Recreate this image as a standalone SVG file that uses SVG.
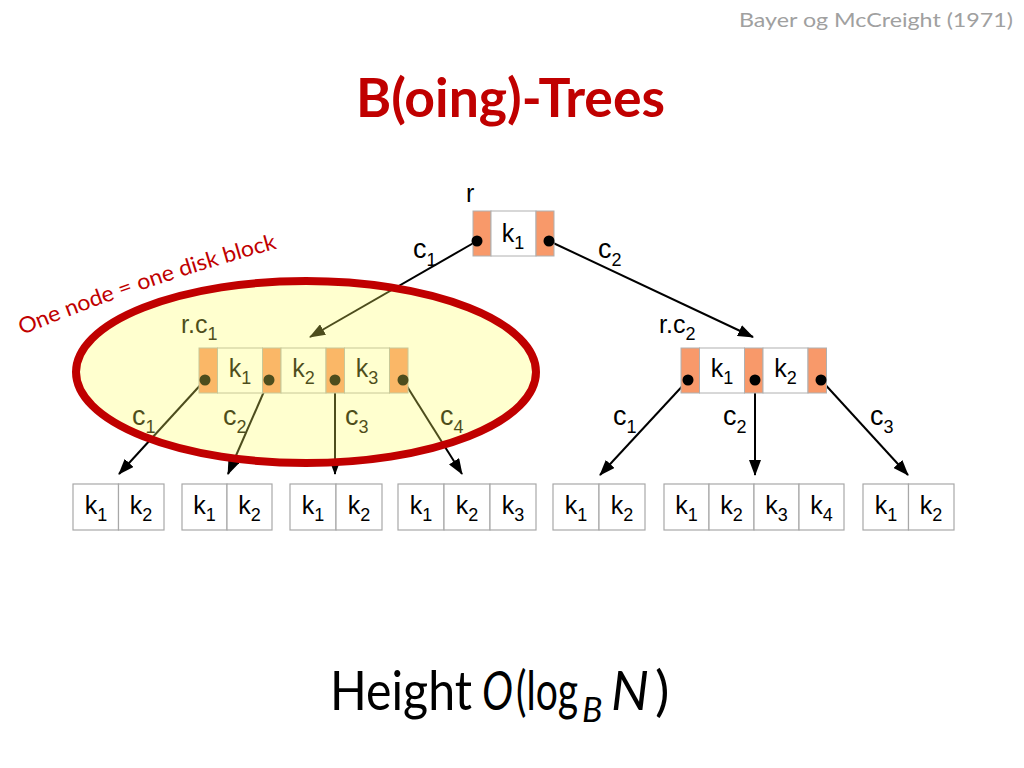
<svg xmlns="http://www.w3.org/2000/svg" width="1024" height="768" viewBox="0 0 1024 768">
<style>
.org{fill:#F8996A;stroke:#B0B0B0;stroke-width:1}
.wht{fill:#FFFFFF;stroke:#B0B0B0;stroke-width:1}
.leaf{fill:#FFFFFF;stroke:#A8A8A8;stroke-width:1.2}
.k{font-family:"Liberation Sans",Arial,sans-serif;font-size:25px;fill:#000;text-anchor:middle}
.ks{font-size:18px}
.cl{font-family:"Liberation Sans",Arial,sans-serif;font-size:27px;fill:#000}
.cs{font-size:18px}
.nm{font-family:"Liberation Sans",Arial,sans-serif;font-size:25px;fill:#000}
.ln{stroke:#000;stroke-width:2;fill:none}
.dot{fill:#000}
.ttl{font-family:Lato,"Open Sans",sans-serif;font-weight:bold;font-size:53px;fill:#C00000}
.cal{font-family:Lato,"Open Sans",sans-serif}
.ht{font-family:Lato,"Open Sans",sans-serif;font-size:54px;fill:#000}
.hs{font-family:Lato,"Open Sans",sans-serif;font-size:34px;font-style:italic;fill:#000}
</style>
<defs>
<marker id="arr" markerUnits="userSpaceOnUse" markerWidth="16" markerHeight="12" viewBox="0 0 16 12" refX="15" refY="6" orient="auto">
<path d="M0,0 L16,6 L0,12 z" fill="#000"/>
</marker>
<path id="arc" d="M22,335 Q150,282 294,244"/>
</defs>

<rect width="1024" height="768" fill="#FFFFFF"/>

<text x="1013" y="27" class="cal" font-size="19" fill="#A0A0A0" text-anchor="end" textLength="274" lengthAdjust="spacingAndGlyphs">Bayer og McCreight (1971)</text>
<text x="356" y="117" class="ttl" textLength="309" lengthAdjust="spacingAndGlyphs">B(oing)-Trees</text>

<g id="connectors">
<line class="ln" x1="477" y1="241" x2="310" y2="337" marker-end="url(#arr)"/>
<line class="ln" x1="549" y1="241" x2="753" y2="337" marker-end="url(#arr)"/>
<line class="ln" x1="205" y1="380" x2="119" y2="474" marker-end="url(#arr)"/>
<line class="ln" x1="269" y1="380" x2="228" y2="474" marker-end="url(#arr)"/>
<line class="ln" x1="335" y1="380" x2="335" y2="474" marker-end="url(#arr)"/>
<line class="ln" x1="403" y1="380" x2="462" y2="474" marker-end="url(#arr)"/>
<line class="ln" x1="688" y1="380" x2="600" y2="475" marker-end="url(#arr)"/>
<line class="ln" x1="755" y1="380" x2="755" y2="475" marker-end="url(#arr)"/>
<line class="ln" x1="821" y1="380" x2="908" y2="475" marker-end="url(#arr)"/>
<text class="cl" x="413" y="258">c<tspan class="cs" dy="8">1</tspan></text>
<text class="cl" x="598" y="258">c<tspan class="cs" dy="8">2</tspan></text>
<text class="cl" x="132" y="425">c<tspan class="cs" dy="8">1</tspan></text>
<text class="cl" x="223" y="425">c<tspan class="cs" dy="8">2</tspan></text>
<text class="cl" x="345" y="425">c<tspan class="cs" dy="8">3</tspan></text>
<text class="cl" x="440" y="425">c<tspan class="cs" dy="8">4</tspan></text>
<text class="cl" x="613" y="425">c<tspan class="cs" dy="8">1</tspan></text>
<text class="cl" x="723" y="425">c<tspan class="cs" dy="8">2</tspan></text>
<text class="cl" x="870" y="425">c<tspan class="cs" dy="8">3</tspan></text>
</g>

<g id="root">
<text class="nm" x="466" y="202">r</text>
<rect class="org" x="473" y="211" width="18" height="45"/>
<rect class="wht" x="491" y="211" width="45" height="45"/>
<rect class="org" x="536" y="211" width="18" height="45"/>
<text class="k" x="513" y="242">k<tspan class="ks" dy="7">1</tspan></text>
<circle class="dot" cx="477" cy="241" r="5.5"/>
<circle class="dot" cx="549" cy="241" r="5.5"/>
</g>

<g id="rc1">
<text class="nm" x="181" y="333">r.c<tspan class="cs" dy="7">1</tspan></text>
<rect class="org" x="199" y="348" width="18.5" height="45"/>
<rect class="wht" x="217.5" y="348" width="45" height="45"/>
<rect class="org" x="262.5" y="348" width="18.5" height="45"/>
<rect class="wht" x="281" y="348" width="45" height="45"/>
<rect class="org" x="326" y="348" width="18.5" height="45"/>
<rect class="wht" x="344.5" y="348" width="45" height="45"/>
<rect class="org" x="389.5" y="348" width="18.5" height="45"/>
<text class="k" x="240" y="377">k<tspan class="ks" dy="7">1</tspan></text>
<text class="k" x="303.5" y="377">k<tspan class="ks" dy="7">2</tspan></text>
<text class="k" x="367" y="377">k<tspan class="ks" dy="7">3</tspan></text>
<circle class="dot" cx="205" cy="380" r="5.5"/>
<circle class="dot" cx="269" cy="380" r="5.5"/>
<circle class="dot" cx="335" cy="380" r="5.5"/>
<circle class="dot" cx="403" cy="380" r="5.5"/>
</g>

<g id="rc2">
<text class="nm" x="659" y="333">r.c<tspan class="cs" dy="7">2</tspan></text>
<rect class="org" x="681" y="348" width="18.5" height="45"/>
<rect class="wht" x="699.5" y="348" width="45" height="45"/>
<rect class="org" x="744.5" y="348" width="18.5" height="45"/>
<rect class="wht" x="763" y="348" width="45" height="45"/>
<rect class="org" x="808" y="348" width="18.5" height="45"/>
<text class="k" x="722" y="377">k<tspan class="ks" dy="7">1</tspan></text>
<text class="k" x="785.5" y="377">k<tspan class="ks" dy="7">2</tspan></text>
<circle class="dot" cx="688" cy="380" r="5.5"/>
<circle class="dot" cx="755" cy="380" r="5.5"/>
<circle class="dot" cx="821" cy="380" r="5.5"/>
</g>

<g id="leaf1">
<rect class="leaf" x="73" y="484" width="45.5" height="46"/>
<rect class="leaf" x="118.5" y="484" width="45.5" height="46"/>
<text class="k" x="96" y="514">k<tspan class="ks" dy="7">1</tspan></text>
<text class="k" x="141" y="514">k<tspan class="ks" dy="7">2</tspan></text>
</g>
<g id="leaf2">
<rect class="leaf" x="182" y="484" width="45" height="46"/>
<rect class="leaf" x="227" y="484" width="45" height="46"/>
<text class="k" x="204.5" y="514">k<tspan class="ks" dy="7">1</tspan></text>
<text class="k" x="249.5" y="514">k<tspan class="ks" dy="7">2</tspan></text>
</g>
<g id="leaf3">
<rect class="leaf" x="290" y="484" width="46" height="46"/>
<rect class="leaf" x="336" y="484" width="46" height="46"/>
<text class="k" x="313" y="514">k<tspan class="ks" dy="7">1</tspan></text>
<text class="k" x="359" y="514">k<tspan class="ks" dy="7">2</tspan></text>
</g>
<g id="leaf4">
<rect class="leaf" x="398" y="484" width="46" height="46"/>
<rect class="leaf" x="444" y="484" width="46" height="46"/>
<rect class="leaf" x="490" y="484" width="46" height="46"/>
<text class="k" x="421" y="514">k<tspan class="ks" dy="7">1</tspan></text>
<text class="k" x="467" y="514">k<tspan class="ks" dy="7">2</tspan></text>
<text class="k" x="513" y="514">k<tspan class="ks" dy="7">3</tspan></text>
</g>
<g id="leaf5">
<rect class="leaf" x="553" y="484" width="46" height="46"/>
<rect class="leaf" x="599" y="484" width="46" height="46"/>
<text class="k" x="576" y="514">k<tspan class="ks" dy="7">1</tspan></text>
<text class="k" x="622" y="514">k<tspan class="ks" dy="7">2</tspan></text>
</g>
<g id="leaf6">
<rect class="leaf" x="664" y="484" width="45" height="46"/>
<rect class="leaf" x="709" y="484" width="45" height="46"/>
<rect class="leaf" x="754" y="484" width="45" height="46"/>
<rect class="leaf" x="799" y="484" width="45" height="46"/>
<text class="k" x="686.5" y="514">k<tspan class="ks" dy="7">1</tspan></text>
<text class="k" x="731.5" y="514">k<tspan class="ks" dy="7">2</tspan></text>
<text class="k" x="776.5" y="514">k<tspan class="ks" dy="7">3</tspan></text>
<text class="k" x="821.5" y="514">k<tspan class="ks" dy="7">4</tspan></text>
</g>
<g id="leaf7">
<rect class="leaf" x="863" y="484" width="45.5" height="46"/>
<rect class="leaf" x="908.5" y="484" width="45.5" height="46"/>
<text class="k" x="886" y="514">k<tspan class="ks" dy="7">1</tspan></text>
<text class="k" x="931" y="514">k<tspan class="ks" dy="7">2</tspan></text>
</g>

<g id="disk-block">
<ellipse cx="306" cy="372" rx="230" ry="91" fill="#FFFF60" fill-opacity="0.3" stroke="#C00000" stroke-width="8"/>
<text class="cal" font-size="22" fill="#C00000"><textPath href="#arc" textLength="270" lengthAdjust="spacingAndGlyphs">One node = one disk block</textPath></text>
</g>

<g id="height">
<text class="ht" x="330" y="710" textLength="142" lengthAdjust="spacingAndGlyphs">Height</text>
<text class="ht" x="482" y="710" font-style="italic" textLength="31" lengthAdjust="spacingAndGlyphs">O</text>
<text class="ht" x="516" y="710" textLength="62" lengthAdjust="spacingAndGlyphs">(log</text>
<text class="hs" x="582" y="722">B</text>
<text class="ht" x="611" y="710" font-style="italic" textLength="38" lengthAdjust="spacingAndGlyphs">N</text>
<text class="ht" x="655" y="710">)</text>
</g>
</svg>
